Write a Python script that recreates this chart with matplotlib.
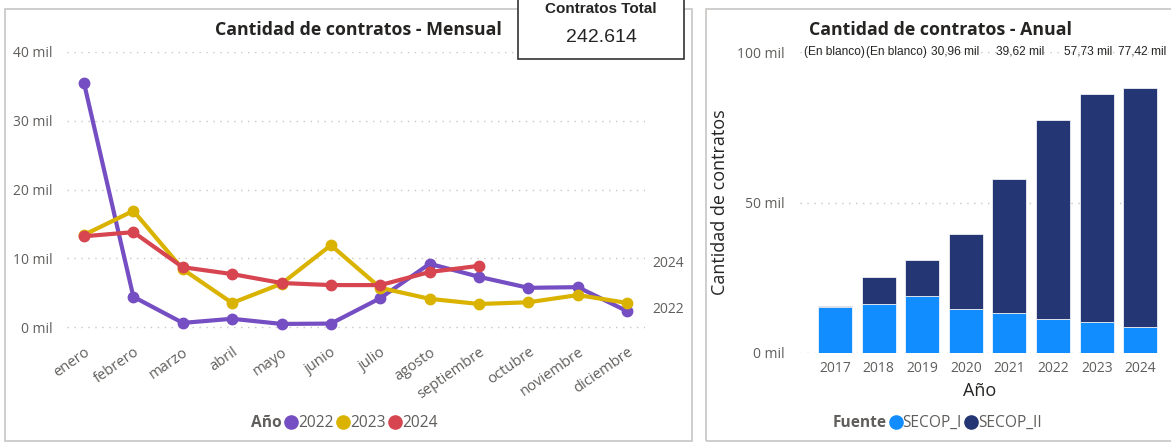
import matplotlib
matplotlib.use("Agg")
import matplotlib.pyplot as plt
from matplotlib.lines import Line2D
from matplotlib.patches import Rectangle
import numpy as np

plt.rcParams['font.family'] = ['Open Sans', 'DejaVu Sans']

# ---- data: monthly line chart ----
meses = ['enero', 'febrero', 'marzo', 'abril', 'mayo', 'junio', 'julio',
         'agosto', 'septiembre', 'octubre', 'noviembre', 'diciembre']
c2022 = [35.5, 4.4, 0.6, 1.2, 0.45, 0.5, 4.2, 9.2, 7.3, 5.7, 5.8, 2.3]
c2023 = [13.4, 16.9, 8.4, 3.5, 6.3, 11.9, 5.7, 4.1, 3.35, 3.6, 4.65, 3.5]
c2024 = [13.2, 13.8, 8.7, 7.7, 6.4, 6.1, 6.1, 8.0, 8.9]

# ---- data: yearly stacked bars ----
anios = ['2017', '2018', '2019', '2020', '2021', '2022', '2023', '2024']
secop_i = [15.3, 16.3, 19.0, 14.7, 13.3, 11.3, 10.3, 8.7]
secop_ii = [0.4, 9.0, 12.0, 24.9, 44.4, 66.1, 75.7, 79.3]
top_labels = ['(En blanco)', '(En blanco)', '30,96 mil', '39,62 mil',
              '57,73 mil', '77,42 mil']
label_x = [-0.02, 1.4, 2.75, 4.24, 5.8, 7.04]

total = '242.614'

col22, col23, col24 = '#744EC2', '#D9B300', '#D64550'
col_i, col_ii = '#118DFF', '#243673'
tick_col = '#605E5C'
title_col = '#252423'

W, H = 1171, 443
fig = plt.figure(figsize=(W / 100, H / 100), dpi=100)


def box(x0, y0, x1, y1):
    # pixel coords (top-left origin) -> figure fraction
    return [x0 / W, 1 - y1 / H, (x1 - x0) / W, (y1 - y0) / H]


# panel borders
for (x0, y0, x1, y1) in [(5, 9, 692, 441), (706, 9, 1175, 441)]:
    fig.patches.append(Rectangle((x0 / W, 1 - y1 / H), (x1 - x0) / W, (y1 - y0) / H,
                                 transform=fig.transFigure, fill=False,
                                 edgecolor='#C8C6C4', lw=1.2))

# ---- left: monthly ----
ax = fig.add_axes(box(67, 52, 645, 335))
x = np.arange(len(meses))
for vals, col in [(c2022, col22), (c2023, col23), (c2024, col24)]:
    ax.plot(x[:len(vals)], vals, color=col, lw=3, marker='o', ms=7.5, zorder=3)
ax.set_xlim(-0.344, 11.36)
ax.set_ylim(-1.16, 40)
ax.set_yticks([0, 10, 20, 30, 40])
ax.set_yticklabels([f'{v} mil' for v in [0, 10, 20, 30, 40]])
ax.set_xticks(x)
ax.set_xticklabels(meses, rotation=35, ha='right', rotation_mode='anchor')
ax.tick_params(length=0, colors=tick_col, labelsize=10)
ax.tick_params(axis='x', labelsize=10.6, pad=7)
ax.tick_params(axis='y', pad=10.5)
ax.grid(axis='y', linestyle=(0, (1, 4)), color='#C8C6C4', lw=1)
for s in ax.spines.values():
    s.set_visible(False)
ax.set_title('Cantidad de contratos - Mensual', fontsize=12.8, fontweight='bold',
             color=title_col, pad=12, x=0.505)
ax.text(1.012, c2024[-1] + 0.3, '2024', transform=ax.get_yaxis_transform(),
        color=tick_col, fontsize=10, va='center', ha='left', clip_on=False)
ax.text(1.012, c2022[-1] + 0.3, '2022', transform=ax.get_yaxis_transform(),
        color=tick_col, fontsize=10, va='center', ha='left', clip_on=False)

handles = [Line2D([], [], ls='none')] + [
    Line2D([], [], ls='none', marker='o', ms=9.5, color=c) for c in (col22, col23, col24)]
leg = ax.legend(handles, ['Año', '2022', '2023', '2024'], ncol=4, frameon=False,
                loc='center', bbox_to_anchor=(0.47, 1 - (423 - 52) / (335 - 52)),
                handlelength=0.6, handletextpad=0.15, columnspacing=0.3,
                fontsize=11.2)
for i, t in enumerate(leg.get_texts()):
    t.set_color(tick_col)
    if i == 0:
        t.set_fontweight('bold')

# ---- card ----
fig.patches.append(Rectangle((518 / W, 1 - 59 / H), (684 - 518) / W, 60 / H,
                             transform=fig.transFigure, facecolor='white',
                             edgecolor='#333333', lw=1.2, zorder=5))
fig.text(601 / W, 1 - 9 / H, 'Contratos Total', ha='center', va='center',
         fontsize=11, fontweight='bold', family=['Liberation Sans'], color=title_col, zorder=6)
fig.text(601 / W, 1 - 38 / H, total, ha='center', va='center',
         fontsize=14, family=['Liberation Sans'], color=title_col, zorder=6)

# ---- right: yearly ----
bx = fig.add_axes(box(800, 52, 1160, 353))
xb = np.arange(len(anios))
bx.bar(xb, secop_i, width=0.78, color=col_i, edgecolor='white', lw=0.5, zorder=3)
bx.bar(xb, secop_ii, bottom=secop_i, width=0.78, color=col_ii, edgecolor='white',
       lw=0.5, zorder=3)
bx.set_xlim(-0.8, 7.45)
bx.set_ylim(0, 100)
bx.set_yticks([0, 50, 100])
bx.set_yticklabels(['0 mil', '50 mil', '100 mil'])
bx.set_xticks(xb)
bx.set_xticklabels(anios)
bx.tick_params(length=0, colors=tick_col, labelsize=10)
bx.tick_params(axis='y', pad=11)
bx.tick_params(axis='x', pad=6)
bx.grid(axis='y', linestyle=(0, (1, 4)), color='#C8C6C4', lw=1)
for s in bx.spines.values():
    s.set_visible(False)
bx.set_ylabel('Cantidad de contratos', fontsize=13, color=title_col, labelpad=6)
bx.set_xlabel('Año', fontsize=13, color=title_col, labelpad=4)
bx.set_title('Cantidad de contratos - Anual', fontsize=12.8, fontweight='bold',
             color=title_col, pad=12, x=0.39)
for lx, lab in zip(label_x, top_labels):
    bx.text(lx, 100, lab, ha='center', va='center', fontsize=8.6,
            family=['Liberation Sans'], color=title_col, clip_on=False)

handles = [Line2D([], [], ls='none')] + [
    Line2D([], [], ls='none', marker='o', ms=9.5, color=c) for c in (col_i, col_ii)]
leg = bx.legend(handles, ['Fuente', 'SECOP_I', 'SECOP_II'], ncol=3, frameon=False,
                loc='center', bbox_to_anchor=(0.365, 1 - (423 - 52) / (353 - 52)),
                handlelength=0.6, handletextpad=0.15, columnspacing=0.3,
                fontsize=11.2)
for i, t in enumerate(leg.get_texts()):
    t.set_color(tick_col)
    if i == 0:
        t.set_fontweight('bold')

fig.savefig('out.png', dpi=100)
